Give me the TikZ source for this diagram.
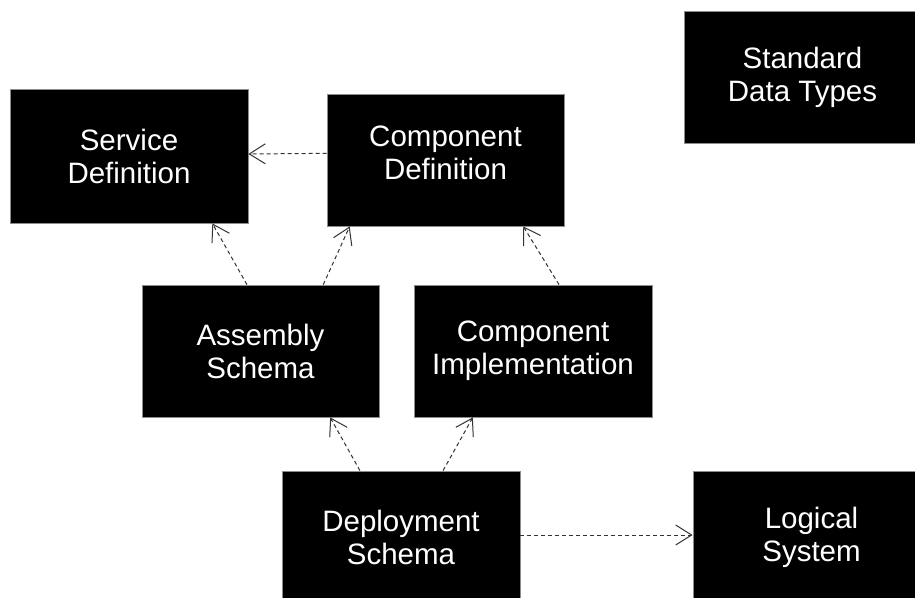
\documentclass[tikz,border=0pt]{standalone}
\usepackage{fontspec}
\setmainfont{Liberation Sans}
\usetikzlibrary{arrows.meta,calc}
\begin{document}
\begin{tikzpicture}[x=1pt,y=-1pt,
  box/.style={rectangle, fill=black, draw=black!45, line width=0.8pt, text=white,
    align=center, inner sep=0pt, font=\fontsize{29.5}{33}\selectfont},
  dep/.style={draw=black!80, line width=1pt, dash pattern=on 4pt off 3pt,
    -{Straight Barb[length=16pt,width=20pt,line width=1pt]}}]
\useasboundingbox (0,0) rectangle (915,597);
\clip (0,0) rectangle (915,597);
\node[box, minimum width=238pt, minimum height=134pt] (sd) at (129,156) {Service\\Definition};
\node[box, minimum width=237pt, minimum height=132pt] (cd) at (445.5,160) {Component\\Definition\\[-19pt]};
\node[box, minimum width=237pt, minimum height=132pt] (sdt) at (802.5,77) {Standard\\Data Types};
\node[box, minimum width=237pt, minimum height=132pt] (as) at (260.5,351) {Assembly\\Schema};
\node[box, minimum width=238pt, minimum height=132pt] (ci) at (533,351) {Component\\Implementation};
\node[box, minimum width=238pt, minimum height=132pt] (ds) at (401,537) {Deployment\\Schema};
\node[box, minimum width=237pt, minimum height=132pt] (ls) at (811.5,537) {Logical\\System};
% connectors
\draw[dep] ($(cd.north west)!0.45!(cd.south west)$) -- ($(sd.north east)!0.485!(sd.south east)$);
\draw[dep] ($(as.north west)!0.443!(as.north east)$) -- ($(sd.south west)!0.849!(sd.south east)$);
\draw[dep] ($(as.north west)!0.764!(as.north east)$) -- ($(cd.south west)!0.097!(cd.south east)$);
\draw[dep] ($(ci.north west)!0.609!(ci.north east)$) -- ($(cd.south west)!0.827!(cd.south east)$);
\draw[dep] ($(ds.north west)!0.328!(ds.north east)$) -- ($(as.south west)!0.793!(as.south east)$);
\draw[dep] ($(ds.north west)!0.676!(ds.north east)$) -- ($(ci.south west)!0.248!(ci.south east)$);
\draw[dep] ($(ds.north east)!0.485!(ds.south east)$) -- ($(ls.north west)!0.485!(ls.south west)$);
\end{tikzpicture}
\end{document}
